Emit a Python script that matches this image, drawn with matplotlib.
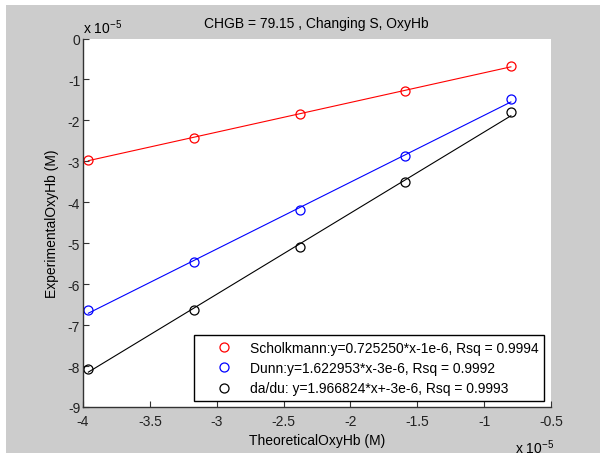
import numpy as np
import matplotlib
matplotlib.use('Agg')
import matplotlib.pyplot as plt
from matplotlib.patches import Rectangle

# values in units of 1e-5 M
theoretical = [-3.96, -3.17, -2.38, -1.59, -0.80]
scholkmann = [-2.96, -2.43, -1.85, -1.28, -0.67]
dunn = [-6.64, -5.46, -4.19, -2.88, -1.48]
dadu = [-8.07, -6.62, -5.09, -3.51, -1.80]

labels = ['Scholkmann:y=0.725250*x-1e-6, Rsq = 0.9994',
          'Dunn:y=1.622953*x-3e-6, Rsq = 0.9992',
          'da/du: y=1.966824*x+-3e-6, Rsq = 0.9993']
colors = ['#ff0000', '#0000ff', '#000000']

xticks = [-4, -3.5, -3, -2.5, -2, -1.5, -1, -0.5]
yticks = [0, -1, -2, -3, -4, -5, -6, -7, -8, -9]

plt.rcParams['font.family'] = ['Liberation Sans', 'DejaVu Sans']
plt.rcParams['axes.unicode_minus'] = False
plt.rcParams['mathtext.default'] = 'regular'
plt.rcParams['font.size'] = 10

fig = plt.figure(figsize=(6, 4.56), dpi=100, facecolor='white')
# gray figure area (white strip on top/left like the screenshot)
fig.patches.append(Rectangle((6 / 600, 2 / 456), 1, 448 / 456,
                             transform=fig.transFigure, facecolor='#cccccc',
                             edgecolor='none', zorder=-10))

ax = fig.add_axes([83 / 600, 1 - 408 / 456, 468 / 600, 368.5 / 456])
ax.set_facecolor('white')

x = np.array(theoretical)
handles = []
for ys, c, lab in zip([scholkmann, dunn, dadu], colors, labels):
    y = np.array(ys)
    k, b = np.polyfit(x, y, 1)
    xl = np.array([x.min(), x.max()])
    ax.plot(xl, k * xl + b, '-', color=c, lw=0.8)
    h, = ax.plot(x, y, 'o', mfc='none', mec=c, ms=6.5, mew=0.9, label=lab)
    handles.append(h)

ax.set_xlim(-4, -0.5)
ax.set_ylim(-9, 0)
ax.set_xticks(xticks)
ax.set_yticks(yticks)
ax.set_xticklabels(['%g' % v for v in xticks])
ax.set_yticklabels(['%g' % v for v in yticks])

for s in ['top', 'right']:
    ax.spines[s].set_visible(False)
for s in ['left', 'bottom']:
    ax.spines[s].set_color('#333333')
    ax.spines[s].set_linewidth(1.0)
ax.tick_params(direction='in', length=4, width=0.8, color='#333333',
               labelsize=10, labelcolor='#222222', pad=2)
ax.tick_params(axis='x', pad=5)

ax.set_xlabel('TheoreticalOxyHb (M)', fontsize=10, labelpad=4)
ax.set_ylabel('ExperimentalOxyHb (M)', fontsize=10, labelpad=6)
fig.text(316 / 600, 1 - 24 / 456, 'CHGB = 79.15 , Changing S, OxyHb',
         ha='center', va='center', fontsize=10)
fig.text(83 / 600, 1 - 28 / 456, r'x 10$^{-5}$', ha='left', va='center', fontsize=10)
fig.text(515 / 600, 1 - 448 / 456, r'x 10$^{-5}$', ha='left', va='center', fontsize=10)

leg = ax.legend(handles=handles, loc='lower right',
                bbox_to_anchor=(461 / 468, 6 / 368.5), fontsize=10,
                fancybox=False, framealpha=1, edgecolor='black',
                borderpad=0.4, handlelength=3.5, handletextpad=0.1,
                labelspacing=0.45, borderaxespad=0)
leg.get_frame().set_linewidth(1.0)

fig.savefig('out.png', dpi=100, facecolor=fig.get_facecolor())
